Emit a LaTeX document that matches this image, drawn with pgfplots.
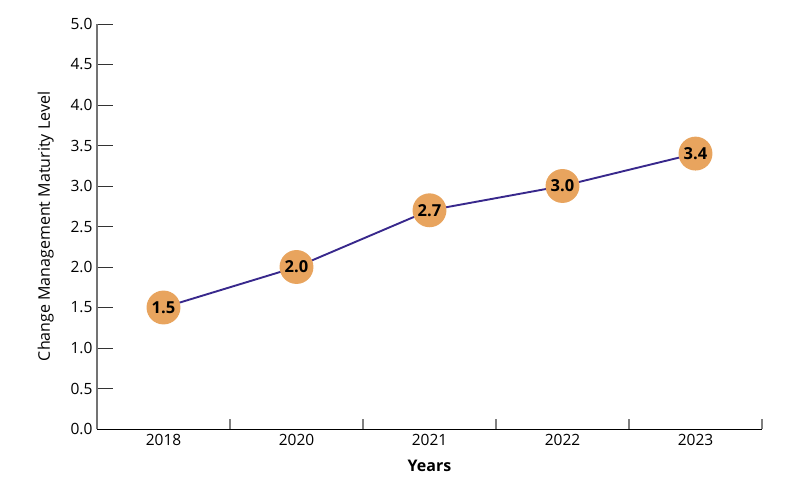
\documentclass[border=0pt]{standalone}
\usepackage{fontspec}
\setmainfont{Open Sans}
\usepackage{pgfplots}
\pgfplotsset{compat=1.18}
\definecolor{lineblue}{HTML}{38288C}
\definecolor{dotorange}{HTML}{E8A45E}
\begin{document}
\begin{tikzpicture}
\useasboundingbox (-97bp,-60bp) rectangle (703bp,429bp);
\begin{axis}[
  at={(0,0)}, anchor=south west,
  scale only axis, width=665bp, height=405bp,
  xmin=-0.5, xmax=4.5, ymin=0, ymax=5,
  axis lines*=left,
  x axis line style={black, line width=0.9pt},
  y axis line style={gray!90!black, line width=1.2pt},
  xtick={0,1,2,3,4},
  xticklabels={2018,2020,2021,2022,2023},
  xtick style={draw=none},
  extra x ticks={0.5,1.5,2.5,3.5,4.5},
  extra x tick labels={},
  extra x tick style={major tick length=10bp, xtick style={draw=gray, line width=1.2pt}},
  ytick={0,0.5,...,5},
  yticklabel style={/pgf/number format/fixed, /pgf/number format/precision=1, /pgf/number format/zerofill, xshift=-1bp},
  tick align=inside,
  major tick length=16bp,
  ytick style={draw=black!80, line width=0.9pt},
  /pgf/number format/assume math mode=true,
  tick label style={font=\fontsize{15.5bp}{17bp}\selectfont, text=black},
  xticklabel style={yshift=-2bp},
  xlabel={\textbf{Years}},
  ylabel={Change Management Maturity Level},
  label style={font=\fontsize{16bp}{17bp}\selectfont},
  xlabel style={yshift=-7bp},
  ylabel style={yshift=10bp},
  clip=false,
]
\addplot[color=lineblue, line width=1.9pt, mark=*, mark size=16bp,
  mark options={fill=dotorange, draw=dotorange},
  nodes near coords={\textbf{\pgfmathprintnumber[fixed,precision=1,zerofill]{\pgfplotspointmeta}}},
  every node near coord/.append style={anchor=center, font=\fontsize{16.5bp}{17bp}\selectfont, text=black},
] coordinates {(0,1.5) (1,2.0) (2,2.7) (3,3.0) (4,3.4)};
\end{axis}
\end{tikzpicture}
\end{document}
